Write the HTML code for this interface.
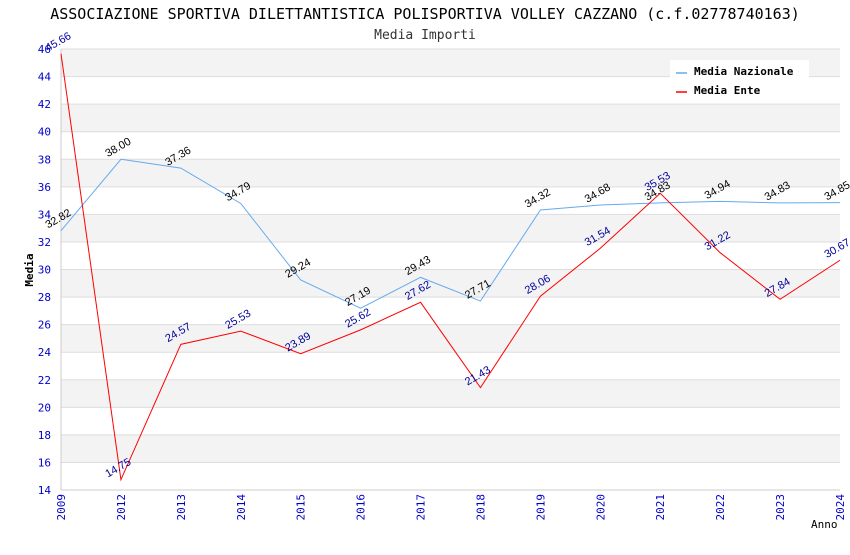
<!DOCTYPE html>
<html><head><meta charset="utf-8"><style>
body{margin:0;background:#fff;}
svg{font-family:"DejaVu Sans Mono","Liberation Mono",monospace;}
</style></head><body>
<svg id="chart" width="850" height="550" xmlns="http://www.w3.org/2000/svg">
<text x="425" y="19" text-anchor="middle" font-size="15" fill="#000">ASSOCIAZIONE SPORTIVA DILETTANTISTICA POLISPORTIVA VOLLEY CAZZANO (c.f.02778740163)</text>
<text x="425" y="39" text-anchor="middle" font-size="13" fill="#333">Media Importi</text>
<g id="bands"></g><g id="grid"></g><g id="axes"></g><g id="series"></g><g id="labels"></g>
<text transform="translate(33,270) rotate(-90)" text-anchor="middle" font-size="11" font-weight="bold">Media</text>
<text x="811" y="528" font-size="11">Anno</text>
<g>
<rect x="670" y="60" width="139" height="40" fill="#fff"/>
<line x1="676" y1="73" x2="687" y2="73" stroke="#66aaee" stroke-width="1.5"/>
<text x="694" y="75" font-size="11" font-weight="bold">Media Nazionale</text>
<line x1="676" y1="92" x2="687" y2="92" stroke="#ff0000" stroke-width="1.5"/>
<text x="694" y="94" font-size="11" font-weight="bold">Media Ente</text>
</g>
</svg>
<script>
const years=["2009","2012","2013","2014","2015","2016","2017","2018","2019","2020","2021","2022","2023","2024"];
const nazionale=[32.82,38.00,37.36,34.79,29.24,27.19,29.43,27.71,34.32,34.68,34.83,34.94,34.83,34.85];
const ente=[45.66,14.75,24.57,25.53,23.89,25.62,27.62,21.43,28.06,31.54,35.53,31.22,27.84,30.67];
const yTicks=[14,16,18,20,22,24,26,28,30,32,34,36,38,40,42,44,46];
const NS="http://www.w3.org/2000/svg";
const x0=61,x1=840,yTop=49,yBot=490,yMin=14,yMax=46;
const xs=i=>x0+i*(x1-x0)/(years.length-1);
const ys=v=>yBot-(v-yMin)*(yBot-yTop)/(yMax-yMin);
function mk(tag,attrs,parent,txt){const e=document.createElementNS(NS,tag);for(const k in attrs)e.setAttribute(k,attrs[k]);if(txt!==undefined)e.textContent=txt;document.getElementById(parent).appendChild(e);return e;}
for(let i=0;i<yTicks.length-1;i++){
 if((yTicks.length-2-i)%2===0){const b=mk('rect',{x:x0,y:ys(yTicks[i+1]),width:x1-x0,height:ys(yTicks[i])-ys(yTicks[i+1]),fill:'#f3f3f3'},'bands');
 
 }
}
yTicks.forEach(t=>{
 const l=mk('line',{x1:x0,x2:x1,y1:ys(t),y2:ys(t),stroke:'#ddd'},'grid');
 
 
 const tx=mk('text',{x:x0-10,y:ys(t)+4,'text-anchor':'end','font-size':11,fill:'#0000cc'},'axes',t);
 
 
});
mk('line',{x1:x0,x2:x0,y1:yTop,y2:yBot,stroke:'#ccc'},'axes');
mk('line',{x1:x0,x2:x1,y1:yBot,y2:yBot,stroke:'#ccc'},'axes');
years.forEach((y,i)=>{
 const tx=mk('text',{transform:`translate(${xs(i)+4},${yBot+4}) rotate(-90)`,'text-anchor':'end','font-size':11,fill:'#0000cc'},'axes',y);
 
 
});
function series(data,color,name,lblColor){
 const p=mk('polyline',{points:data.map((v,i)=>xs(i)+','+ys(v)).join(' '),fill:'none',stroke:color,'stroke-width':1},'series');
 
 
 data.forEach((v,i)=>{
  const t=mk('text',{transform:`translate(${xs(i)-13},${ys(v)-2}) rotate(-30)`,'font-size':11,fill:lblColor,'font-family':'Liberation Sans, sans-serif'},'labels',v.toFixed(2));
  
  
 });
}
series(nazionale,'#66aaee','line-nazionale','#000');
series(ente,'#ff0000','line-ente','#000099');
</script>
</body></html>
